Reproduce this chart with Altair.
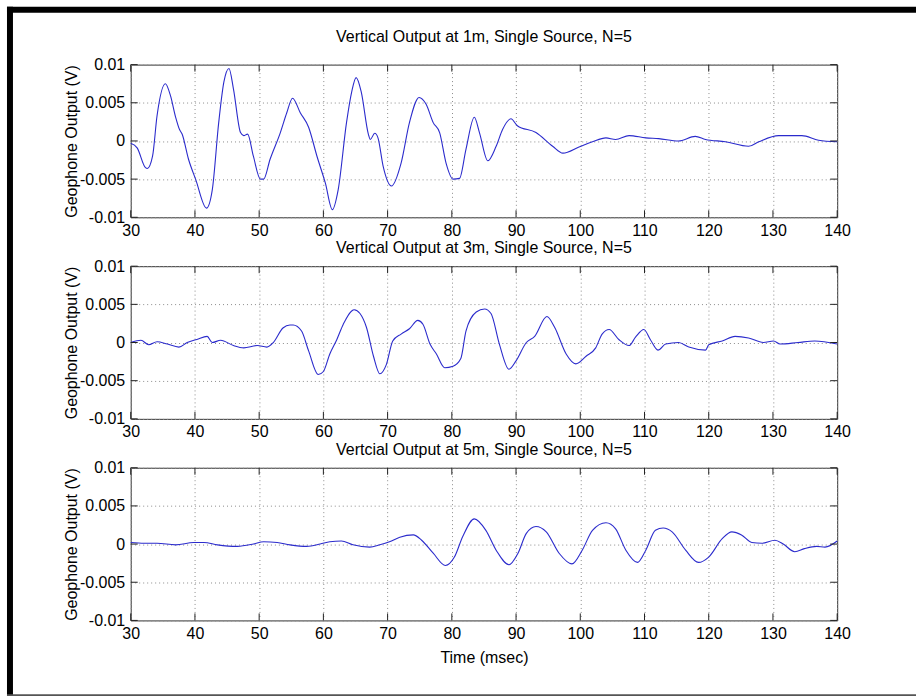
import altair as alt
import pandas as pd

# ---------------- data ----------------
t1 = [30.0, 31.0, 32.3, 32.6, 33.4, 34.1, 35.4, 36.2, 37.0, 37.6, 38.0, 39.0, 40.1, 41.8, 42.7,
      43.7, 44.5, 45.3, 46.0, 47.1, 47.6, 48.2, 49.1, 50.2, 50.7, 51.7, 53.3, 54.3, 55.2, 56.4,
      57.7, 59.0, 60.3, 61.4, 62.3, 63.6, 64.4, 65.1, 65.9, 67.0, 67.3, 68.0, 68.5, 69.3, 70.6,
      72.1, 73.4, 74.9, 76.0, 77.1, 78.1, 79.1, 80.2, 81.2, 82.2, 83.5, 84.3, 85.6, 86.9, 87.9,
      89.2, 90.2, 93.1, 95.7, 97.3, 99.8, 101.9, 104.0, 105.5, 107.6, 110.2, 112.2, 115.3, 117.9,
      119.5, 122.6, 126.2, 127.8, 130.9, 134.5, 137.1, 140.0]
v1 = [-0.0003, -0.0009, -0.0035, -0.0036, -0.0020, 0.0033, 0.0075, 0.0059, 0.0031, 0.0015, 0.0009,
      -0.0024, -0.0050, -0.0088, -0.0064, 0.0024, 0.0077, 0.0095, 0.0068, 0.0011, 0.0007, 0.0009,
      -0.0020, -0.0050, -0.0050, -0.0024, 0.0011, 0.0037, 0.0056, 0.0037, 0.0018, -0.0020, -0.0055,
      -0.0090, -0.0064, 0.0024, 0.0064, 0.0083, 0.0064, 0.0009, 0.0002, 0.0010, 0.0004, -0.0033,
      -0.0059, -0.0029, 0.0024, 0.0057, 0.0048, 0.0024, 0.0011, -0.0029, -0.0050, -0.0049, -0.0011,
      0.0031, 0.0011, -0.0026, -0.0007, 0.0015, 0.0029, 0.0020, 0.0011, -0.0007, -0.0016, -0.0008,
      -0.0001, 0.0004, 0.0002, 0.0007, 0.0004, 0.0003, 0.0000, 0.0006, 0.0002, -0.0001, -0.0007,
      -0.0001, 0.0007, 0.0007, 0.0001, -0.0001]

t2 = [30.0, 31.6, 32.8, 34.1, 35.7, 37.5, 38.8, 40.3, 41.9, 42.7, 44.0, 46.0, 47.6, 49.7, 51.2,
      52.2, 53.7, 54.8, 55.3, 56.6, 57.7, 59.2, 60.0, 61.0, 62.1, 63.1, 64.8, 65.7, 66.7, 67.8,
      68.8, 69.8, 70.8, 72.1, 73.4, 74.7, 75.5, 76.6, 77.6, 78.9, 80.2, 81.4, 82.2, 83.8, 85.1,
      86.1, 87.4, 88.9, 90.0, 91.6, 92.9, 94.8, 96.0, 97.8, 99.3, 100.9, 102.4, 103.4, 104.5,
      106.0, 107.6, 108.6, 109.9, 110.9, 112.1, 113.3, 115.3, 116.9, 119.5, 120.0, 122.1, 124.1,
      126.2, 128.5, 130.1, 131.1, 133.9, 136.5, 140.0]
v2 = [0.0000, 0.0003, -0.0003, 0.0001, -0.0002, -0.0006, 0.0000, 0.0004, 0.0008, 0.0000, 0.0003,
      -0.0004, -0.0007, -0.0004, -0.0006, 0.0000, 0.0019, 0.0023, 0.0023, 0.0015, -0.0011, -0.0042,
      -0.0038, -0.0015, 0.0004, 0.0024, 0.0043, 0.0038, 0.0020, -0.0018, -0.0041, -0.0029, 0.0002,
      0.0011, 0.0018, 0.0029, 0.0024, -0.0002, -0.0015, -0.0033, -0.0031, -0.0021, 0.0015, 0.0040,
      0.0044, 0.0038, -0.0002, -0.0035, -0.0024, 0.0000, 0.0008, 0.0034, 0.0020, -0.0015, -0.0028,
      -0.0018, -0.0007, 0.0011, 0.0017, 0.0004, -0.0004, 0.0007, 0.0017, 0.0004, -0.0010, -0.0002,
      0.0000, -0.0006, -0.0010, -0.0003, 0.0002, 0.0008, 0.0006, 0.0000, 0.0002, -0.0002, 0.0000,
      0.0002, -0.0002]

t3 = [30.0, 32.1, 34.1, 37.0, 39.8, 41.4, 43.5, 46.6, 49.1, 50.7, 52.8, 54.8, 57.4, 59.5, 61.0,
      62.8, 64.6, 67.2, 68.8, 70.3, 71.9, 74.0, 75.3, 77.1, 79.0, 80.4, 81.7, 83.5, 85.3, 86.9,
      88.9, 90.3, 91.6, 93.1, 94.7, 96.7, 98.7, 100.3, 101.9, 104.0, 105.5, 107.1, 108.9, 110.2,
      111.7, 112.9, 114.3, 116.4, 118.4, 120.0, 122.1, 123.6, 125.1, 126.7, 128.3, 130.3, 131.6,
      133.4, 134.9, 136.8, 138.1, 140.0]
v3 = [0.0002, 0.0001, 0.0001, -0.0001, 0.0002, 0.0002, -0.0001, -0.0003, 0.0000, 0.0003, 0.0002,
      -0.0001, -0.0003, 0.0000, 0.0003, 0.0004, -0.0001, -0.0004, -0.0001, 0.0003, 0.0009, 0.0012,
      0.0005, -0.0012, -0.0028, -0.0017, 0.0010, 0.0033, 0.0018, -0.0008, -0.0027, -0.0012, 0.0014,
      0.0023, 0.0016, -0.0012, -0.0026, -0.0008, 0.0018, 0.0028, 0.0020, -0.0008, -0.0024, -0.0008,
      0.0018, 0.0021, 0.0016, -0.0008, -0.0024, -0.0017, 0.0007, 0.0016, 0.0012, 0.0002, 0.0001,
      0.0005, 0.0000, -0.0010, -0.0006, -0.0003, -0.0004, 0.0004]

titles = ["Vertical Output at 1m, Single Source, N=5",
          "Vertical Output at 3m, Single Source, N=5",
          "Vertcial Output at 5m, Single Source, N=5"]
x_ticks = [30, 40, 50, 60, 70, 80, 90, 100, 110, 120, 130, 140]
y_ticks = [-0.01, -0.005, 0, 0.005, 0.01]
y_title = "Geophone Output (V)"
x_title = "Time (msec)"

# ---------------- styling ----------------
W, H = 708, 153
FONT = "Liberation Sans"
FS = 16
LINE = "#2b2bcc"
TICK = 7


def panel(t, v, title, title_offset, show_xtitle, frame=False):
    df = pd.DataFrame({"t": t, "v": v})
    xs = alt.Scale(domain=[30, 140], nice=False, zero=False)
    ys = alt.Scale(domain=[-0.01, 0.01], nice=False, zero=False)
    xkw = dict(values=x_ticks, grid=True, ticks=False, tickSize=0, domain=False,
               labelFontSize=FS, labelFont=FONT, labelColor="black", labelPadding=5,
               labelFlush=False, labelOverlap=False, format="d")
    if show_xtitle:
        xkw.update(title=x_title, titleFont=FONT, titleFontSize=FS, titleFontWeight="normal",
                   titleColor="black", titleY=37, titleBaseline="middle")
    else:
        xkw.update(title="")
    xaxis = alt.Axis(**xkw)
    yaxis = alt.Axis(values=y_ticks, grid=True, ticks=False, tickSize=0, domain=False,
                     labelFontSize=FS, labelFont=FONT, labelColor="black", labelPadding=6,
                     labelFlush=False, labelOverlap=False,
                     labelExpr="toString(datum.value)",
                     title=y_title, titleFont=FONT, titleFontSize=FS, titleFontWeight="normal",
                     titleColor="black", titleAngle=270, titleX=-59, titleY=H / 2,
                     titleAlign="center", titleBaseline="middle")
    X = alt.X("t:Q", scale=xs, axis=xaxis)
    Y = alt.Y("v:Q", scale=ys, axis=yaxis)

    line = alt.Chart(df).mark_line(color=LINE, strokeWidth=1.1, interpolate="monotone").encode(
        x=X, y=Y)
    txd = pd.DataFrame({"t": x_ticks})
    tyd = pd.DataFrame({"v": y_ticks})
    tb = alt.Chart(txd).mark_rule(color="#222", strokeWidth=1).encode(
        x=X, y=alt.value(H), y2=alt.value(H - TICK))
    tt = alt.Chart(txd).mark_rule(color="#222", strokeWidth=1).encode(
        x=X, y=alt.value(0), y2=alt.value(TICK))
    tl = alt.Chart(tyd).mark_rule(color="#222", strokeWidth=1).encode(
        y=Y, x=alt.value(0), x2=alt.value(TICK))
    tr = alt.Chart(tyd).mark_rule(color="#222", strokeWidth=1).encode(
        y=Y, x=alt.value(W), x2=alt.value(W - TICK))
    ttl = alt.Chart(pd.DataFrame({"label": [title]})).mark_text(
        font=FONT, fontSize=FS, color="black", align="center", baseline="alphabetic").encode(
        x=alt.value(W / 2), y=alt.value(-title_offset), text="label:N")
    layers = [line, tb, tt, tl, tr, ttl]
    if frame:
        one = pd.DataFrame({"k": [0]})
        top_bar = alt.Chart(one).mark_rect(color="black").encode(
            x=alt.value(-124), x2=alt.value(787), y=alt.value(-58), y2=alt.value(-52))
        left_bar = alt.Chart(one).mark_rect(color="black").encode(
            x=alt.value(-124), x2=alt.value(-118), y=alt.value(-58), y2=alt.value(633))
        bottom_bar = alt.Chart(one).mark_rect(color="#555").encode(
            x=alt.value(-124), x2=alt.value(787), y=alt.value(631), y2=alt.value(633))
        layers = layers + [top_bar, left_bar, bottom_bar]
    return alt.layer(*layers).properties(width=W, height=H)


p1 = panel(t1, v1, titles[0], 23, False, frame=True)
p2 = panel(t2, v2, titles[1], 13, False)
p3 = panel(t3, v3, titles[2], 13, True)

chart = alt.vconcat(p1, p2, p3, spacing=49, bounds="flush").properties(
    padding={"left": 6, "top": 5, "right": 0, "bottom": 0},
    background="white",
).configure_view(
    stroke="#333", strokeWidth=1
).configure_axis(
    gridColor="#8c8c8c", gridDash=[1, 3], gridWidth=1, gridOpacity=1
)

chart.save("out.html", embed_options={"renderer": "svg", "actions": False})
